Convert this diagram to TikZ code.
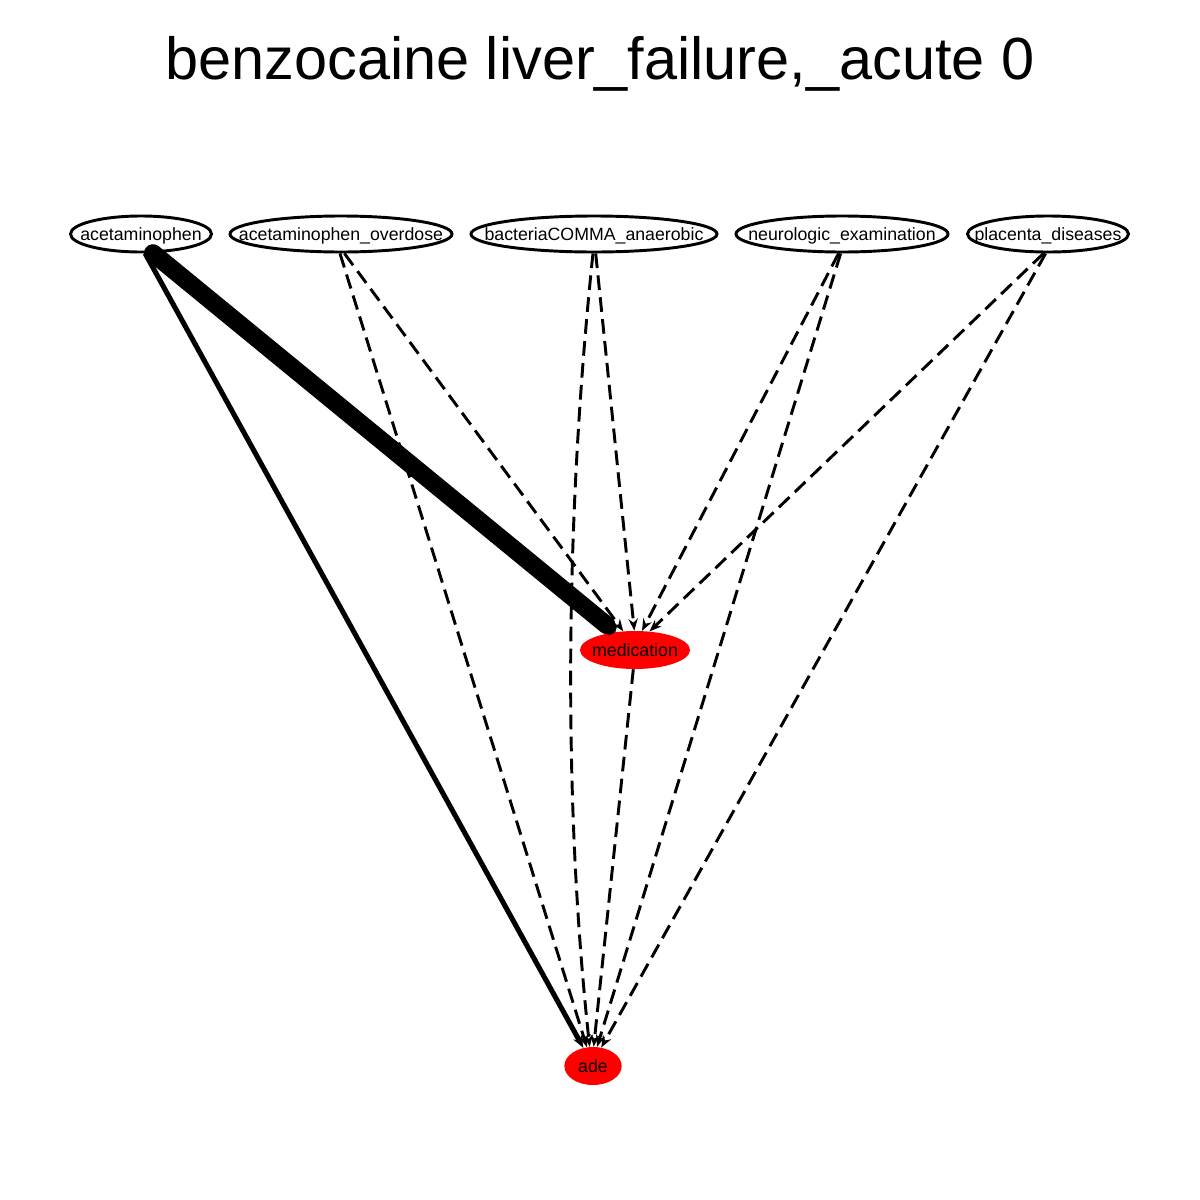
\documentclass[tikz,border=0pt]{standalone}
\usepackage{fontspec}
\setmainfont{Liberation Sans}
\usetikzlibrary{arrows.meta,shapes.geometric}
\newcommand{\nlab}[1]{\smash{\raisebox{-0.36em}{\makebox[0pt]{#1}}}}
\begin{document}
\begin{tikzpicture}[x=0.75pt,y=-0.75pt,
  src/.style={ellipse,draw=black,line width=2.2pt,inner sep=0pt,font=\fontsize{13.3}{14}\selectfont},
  tgt/.style={ellipse,fill=red,draw=none,inner sep=0pt,font=\fontsize{13.3}{14}\selectfont},
  dedge/.style={line width=2.2pt,dash pattern=on 11pt off 5.5pt,-{Stealth[length=9pt,width=7pt]}},
  sedge/.style={line width=3.8pt,-{Stealth[length=9pt,width=7pt]}},
  tedge/.style={line width=13.5pt,line cap=round,-{Circle[length=11pt]}}]
\useasboundingbox (0,0) rectangle (1200,1200);
\node[font=\fontsize{44.6}{50}\selectfont] (title) at (600,64) {benzocaine liver\_failure,\_acute 0};
\node[src,minimum width=105.75pt,minimum height=27pt] (a) at (141,234) {\nlab{acetaminophen}};
\node[src,minimum width=166.5pt,minimum height=27pt] (ao) at (341,234) {\nlab{acetaminophen\_overdose}};
\node[src,minimum width=184.5pt,minimum height=27pt] (b) at (594,234) {\nlab{bacteriaCOMMA\_anaerobic}};
\node[src,minimum width=159pt,minimum height=27pt] (n) at (842,234) {\nlab{neurologic\_examination}};
\node[src,minimum width=120.75pt,minimum height=27pt] (p) at (1048,234) {\nlab{placenta\_diseases}};
\node[tgt,minimum width=82.5pt,minimum height=28.5pt] (m) at (635,650) {\nlab{medication}};
\node[tgt,minimum width=43pt,minimum height=28.5pt] (ade) at (593,1066) {\nlab{ade}};
\draw[sedge] (a.-78) -- (ade.118);
\draw[tedge] (a.-58) -- (m.138);
\draw[dedge] (ao.-80) -- (m.122);
\draw[dedge] (ao.-93) -- (ade.108);
\draw[dedge] (b.-85) -- (m.92);
\draw[dedge] (b.-93) .. controls (565,520) and (563,800) .. (ade.100);
\draw[dedge] (n.-100) -- (m.70);
\draw[dedge] (n.-94) -- (ade.78);
\draw[dedge] (p.-103) -- (m.52);
\draw[dedge] (p.-97) -- (ade.66);
\draw[dedge] (m.-95) -- (ade.88);
\end{tikzpicture}
\end{document}
